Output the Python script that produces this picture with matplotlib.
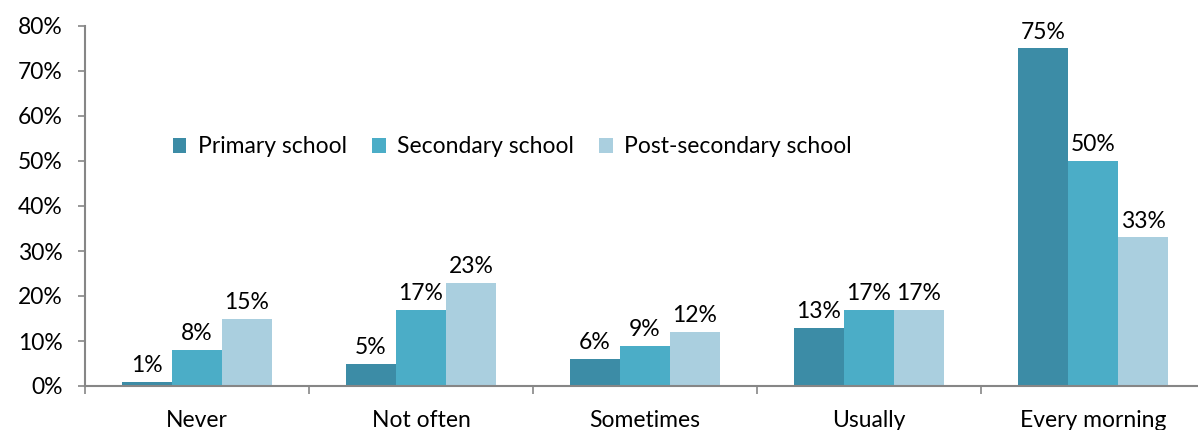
import numpy as np
import matplotlib
matplotlib.use('Agg')
import matplotlib.pyplot as plt
from matplotlib.ticker import FixedLocator, PercentFormatter

plt.rcParams['font.family'] = ['Lato', 'DejaVu Sans']

categories = ['Never', 'Not often', 'Sometimes', 'Usually', 'Every morning']
series = ['Primary school', 'Secondary school', 'Post-secondary school']
primary = [1, 5, 6, 13, 75]
secondary = [8, 17, 9, 17, 50]
post_secondary = [15, 23, 12, 17, 33]
colors = ['#3C8CA6', '#4BADC7', '#AACFDF']

fs = 16.5

fig = plt.figure(figsize=(11.98, 4.30), dpi=100)
ax = fig.add_axes([85 / 1198, 44 / 430, 1120 / 1198, 360 / 430])

x = np.arange(len(categories))
w = 50 / 224
for i, (vals, name) in enumerate(zip([primary, secondary, post_secondary], series)):
    pos = x + (i - 1) * w
    ax.bar(pos, vals, width=w, color=colors[i], label=name, linewidth=0)
    for px, v in zip(pos, vals):
        ax.text(px, v + 1.3, '%d%%' % v, ha='center', va='bottom', fontsize=fs, color='#000000')

ax.set_xlim(-0.5, len(categories) - 0.5)
ax.set_ylim(0, 80)
ax.set_yticks(np.arange(0, 81, 10))
ax.yaxis.set_major_formatter(PercentFormatter(decimals=0))
ax.set_xticks(x)
ax.set_xticklabels(categories)
ax.xaxis.set_minor_locator(FixedLocator(np.arange(-0.5, len(categories), 1.0)))
ax.tick_params(axis='x', which='major', length=0, pad=17, labelsize=fs)
ax.tick_params(axis='x', which='minor', length=6, color='#868686', width=1.2)
ax.tick_params(axis='y', length=5, color='#868686', width=1.2, labelsize=fs, pad=11)

for s in ['top', 'right']:
    ax.spines[s].set_visible(False)
for s in ['left', 'bottom']:
    ax.spines[s].set_color('#868686')
    ax.spines[s].set_linewidth(1.5)

ax.legend(loc='center left', bbox_to_anchor=(0.07, 0.664), ncol=3, frameon=False,
          fontsize=fs, handlelength=0.6, handleheight=0.6, handletextpad=0.5,
          columnspacing=1.1, borderaxespad=0)

fig.savefig('out.png', dpi=100)
